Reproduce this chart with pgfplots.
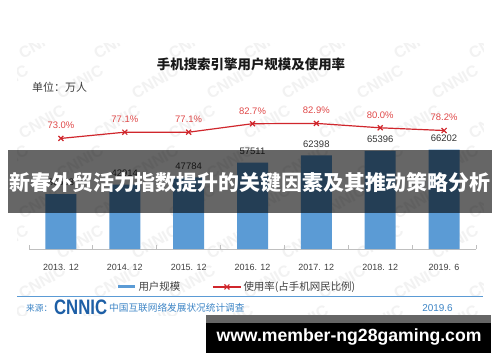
\documentclass[border=0pt]{standalone}
\usepackage{pgfplots}
\pgfplotsset{compat=1.18}
\usepackage{fontspec}
\setmainfont{Liberation Sans}
\newfontfamily\cjk{Noto Sans CJK SC}
\definecolor{barblue}{HTML}{5B9BD5}
\definecolor{linered}{HTML}{D0262C}
\definecolor{labred}{HTML}{E04848}
\definecolor{txt}{HTML}{404040}
\definecolor{srcblue}{HTML}{3D85C6}
\definecolor{logoblue}{HTML}{1D5FA6}
\pgfplotsset{
  redlegend/.style={legend image code/.code={\draw[mark repeat=2,mark phase=2,##1] plot coordinates {(0bp,0bp) (14bp,0bp) (28bp,0bp)};}},
  bluelegend/.style={legend image code/.code={\draw[barblue, line width=3bp] (0bp,0bp) -- (17bp,0bp);}},
}
\begin{document}
\begin{tikzpicture}[x=1bp,y=1bp]
\path[use as bounding box, fill=white] (0,0) rectangle (500,362);
% faint CNNIC watermark
\begin{scope}
\clip (17,47) rectangle (483,319);
\foreach \i in {0,...,7}{\foreach \j in {0,...,7}{
  \node[rotate=30, text=black!5, font=\bfseries\fontsize{16}{16}\selectfont] at ({5+\i*75+mod(\j,2)*37},{40+\j*40}) {CNNIC};
}}
\end{scope}
% bars
\begin{axis}[
  at={(29bp,113bp)}, anchor=south west, scale only axis,
  width=447bp, height=150bp,
  xmin=-0.5, xmax=6.5, ymin=0, ymax=100000,
  hide y axis, axis x line*=bottom,
  x axis line style={draw=black!25, line width=0.8bp},
  xtick={0,...,6},
  xticklabels={2013. 12,2014. 12,2015. 12,2016. 12,2017. 12,2018. 12,2019. 6},
  major x tick style={draw=none},
  minor xtick={-0.5,0.5,...,6.5},
  minor x tick style={draw=black!25, line width=0.8bp},
  minor tick length=4bp, tick align=inside,
  xticklabel style={font=\fontsize{9}{9}\selectfont, text=txt, yshift=-12bp},
  /pgf/number format/1000 sep={},
  /pgf/number format/assume math mode=true,
  legend style={at={(0.465,-0.253)}, anchor=center, draw=none, fill=none,
    font=\cjk\fontsize{10.5}{10.5}\selectfont, text=txt, legend columns=2,
    /tikz/every even column/.append style={column sep=30bp}, inner sep=0pt},
  legend cell align=left,
]
\addplot[ybar, bar width=31bp, fill=barblue, draw=none,
  nodes near coords,
  nodes near coords style={font=\fontsize{9.5}{9.5}\selectfont, text=black!80, inner sep=0pt, yshift=8bp},
  bluelegend]
  coordinates {(0,36503) (1,42914) (2,47784) (3,57511) (4,62398) (5,65396) (6,66202)};
\addlegendentry{用户规模}
\addlegendimage{linered, line width=1.2bp, mark=x, mark size=3.5bp, redlegend}
\addlegendentry{使用率(占手机网民比例)}
\end{axis}
% line
\begin{axis}[
  at={(29bp,113bp)}, anchor=south west, scale only axis,
  width=447bp, height=150bp,
  xmin=-0.5, xmax=6.5, ymin=0, ymax=99,
  hide axis,
  /pgf/number format/assume math mode=true,
]
\addplot[linered, line width=1.2bp, mark=x, mark size=3.5bp,
  nodes near coords={\pgfmathprintnumber[fixed,fixed zerofill,precision=1]{\pgfplotspointmeta}\%},
  nodes near coords style={font=\fontsize{9.5}{9.5}\selectfont, text=labred, inner sep=0pt, yshift=9bp}]
  coordinates {(0,73.0) (1,77.1) (2,77.1) (3,82.7) (4,82.9) (5,80.0) (6,78.2)};
\end{axis}
% titles
\node[font=\cjk\bfseries\fontsize{13.5}{13.5}\selectfont, text=black!90] at (251,298) {手机搜索引擎用户规模及使用率};
\node[anchor=west, font=\cjk\fontsize{11}{11}\selectfont, text=txt, inner sep=0pt] at (32,275) {单位：万人};
% source
\draw[barblue, line width=0.8bp] (17,66) -- (483,66);
\node[anchor=west, font=\cjk\fontsize{8.7}{8.7}\selectfont, text=srcblue, inner sep=0pt] at (26,54) {来源：};
\node[anchor=west, font=\bfseries\fontsize{21}{21}\selectfont, text=logoblue, inner sep=0pt, xscale=0.8] at (54,54.5) {CNNIC};
\node[anchor=west, font=\cjk\fontsize{9.7}{9.7}\selectfont, text=srcblue, inner sep=0pt] at (109,54) {中国互联网络发展状况统计调查};
\node[font=\fontsize{10}{10}\selectfont, text=srcblue, inner sep=0pt] at (437.5,54) {2019.6};
% banner overlay
\fill[black, opacity=0.6] (8,149) rectangle (492,212);
\node[text=white, font=\cjk\bfseries\fontsize{21}{21}\selectfont, inner sep=0pt] at (250,179) {新春外贸活力指数提升的关键因素及其推动策略分析};
% bottom url box
\fill[black!60] (206,39) rectangle (491,47);
\fill[black] (206,9) rectangle (491,39);
\node[anchor=base, text=white, font=\bfseries\fontsize{17.7}{17.7}\selectfont, inner sep=0pt] at (349,20.5) {www.member-ng28gaming.com};
\end{tikzpicture}
\end{document}
